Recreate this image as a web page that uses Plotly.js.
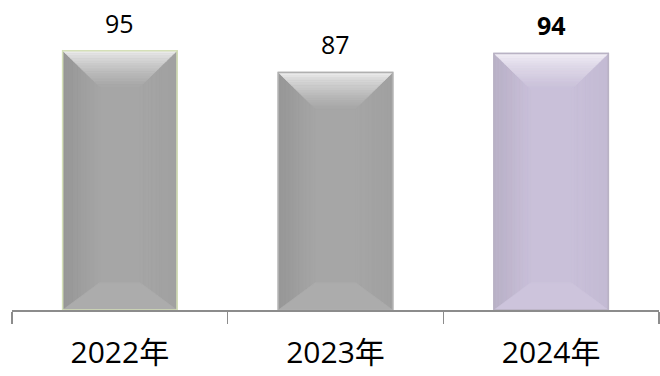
<!DOCTYPE html>
<html>
<head>
<meta charset="utf-8">
<script src="https://cdn.plot.ly/plotly-3.0.1.min.js"></script>
<style>html,body{margin:0;padding:0;background:#fff;}#chart{width:660px;height:376px;}</style>
</head>
<body>
<div id="chart"></div>
<script>
// Data
var categories = ["2022年", "2023年", "2024年"];
var values = [95, 87, 94];
var valueLabels = ["95", "87", "<b>94</b>"];
var baseColors = ["#a6a6a6", "#a6a6a6", "#c9c0d9"];
var lightColors = ["#f2f2f2", "#f2f2f2", "#f5f2f8"];
var darkColors = ["#969696", "#969696", "#b8b0c6"];
var rightColors = ["#a0a0a0", "#a0a0a0", "#c3bad3"];
var borderColors = ["#d5e0b8", "#b0b0b0", "#b9b2c4"];

var HW = 0.265;      // bar half width (category units)
var BX = 0.171;      // bevel x depth (category units)
var BY = 13.2;       // bevel top depth (value units)
var BB = 10;         // bevel bottom depth (value units)

function hex2rgb(h){h=h.replace('#','');return [parseInt(h.substr(0,2),16),parseInt(h.substr(2,2),16),parseInt(h.substr(4,2),16)];}
function mix(a,b,t){var A=hex2rgb(a),B=hex2rgb(b);return 'rgb('+A.map(function(v,i){return Math.round(v+(B[i]-v)*t);}).join(',')+')';}
function poly(pts){return 'M'+pts.map(function(p){return p[0]+','+p[1];}).join(' L')+' Z';}
function face(path, col){return {type:'path', xref:'x', yref:'y', layer:'above', line:{width:0.6, color:col}, fillcolor:col, path:path};}

var shapes = [];
values.forEach(function(v, i){
  var xl = i - HW, xr = i + HW;
  var n = 14, k;
  // left side face (vertical stripes, darker at edge)
  for(k=0;k<n;k++){
    var f0=k/n, f1=(k+1)/n;
    shapes.push(face(poly([[xl+f0*BX, v-f0*BY],[xl+f1*BX, v-f1*BY],[xl+f1*BX, f1*BB],[xl+f0*BX, f0*BB]]),
      mix(darkColors[i], baseColors[i], (k+0.5)/n)));
  }
  // right side face
  for(k=0;k<n;k++){
    var g0=k/n, g1=(k+1)/n;
    shapes.push(face(poly([[xr-g0*BX, v-g0*BY],[xr-g1*BX, v-g1*BY],[xr-g1*BX, g1*BB],[xr-g0*BX, g0*BB]]),
      mix(rightColors[i], baseColors[i], (k+0.5)/n)));
  }
  // bottom face
  shapes.push(face(poly([[xl,0],[xr,0],[xr-BX,BB],[xl+BX,BB]]), mix(baseColors[i], '#ffffff', 0.07)));
  // top face (horizontal bands, light at top)
  for(k=0;k<n;k++){
    var t0=k/n, t1=(k+1)/n;
    shapes.push(face(poly([[xl+t0*BX, v-t0*BY],[xr-t0*BX, v-t0*BY],[xr-t1*BX, v-t1*BY],[xl+t1*BX, v-t1*BY]]),
      mix(lightColors[i], baseColors[i], Math.pow((k+0.5)/n, 0.7))));
  }
  // outline
  shapes.push({type:'rect', xref:'x', yref:'y', layer:'above', x0:xl, x1:xr, y0:0, y1:v,
    fillcolor:'rgba(0,0,0,0)', line:{color:borderColors[i], width:1.5}});
});

var annotations = values.map(function(v, i){
  return {x: i, y: v, xref:'x', yref:'y', text: valueLabels[i], showarrow:false,
    yanchor:'bottom', yshift: 9, font:{family:'Open Sans, Noto Sans, sans-serif', size:25, color:'#000'}};
});

var trace = {
  type:'bar', x: categories, y: values,
  marker:{color: baseColors, line:{color: borderColors, width:1.5}},
  hoverinfo:'none'
};

var layout = {
  width:660, height:376,
  margin:{l:12, r:1, t:37, b:66, pad:0},
  paper_bgcolor:'#ffffff', plot_bgcolor:'#ffffff',
  bargap:0.47,
  showlegend:false,
  xaxis:{type:'category', tickson:'boundaries', ticks:'outside', ticklen:12, tickwidth:1.5, tickcolor:'#8c8c8c',
    showline:true, linecolor:'#8c8c8c', linewidth:2, showgrid:false, zeroline:false,
    ticklabelstandoff:15,
    tickfont:{family:'Open Sans, Noto Sans CJK SC, sans-serif', size:30, color:'#000'}},
  yaxis:{visible:false, range:[0,100], fixedrange:true},
  shapes: shapes,
  annotations: annotations
};

Plotly.newPlot('chart', [trace], layout, {staticPlot:true, displayModeBar:false});
</script>
</body>
</html>
